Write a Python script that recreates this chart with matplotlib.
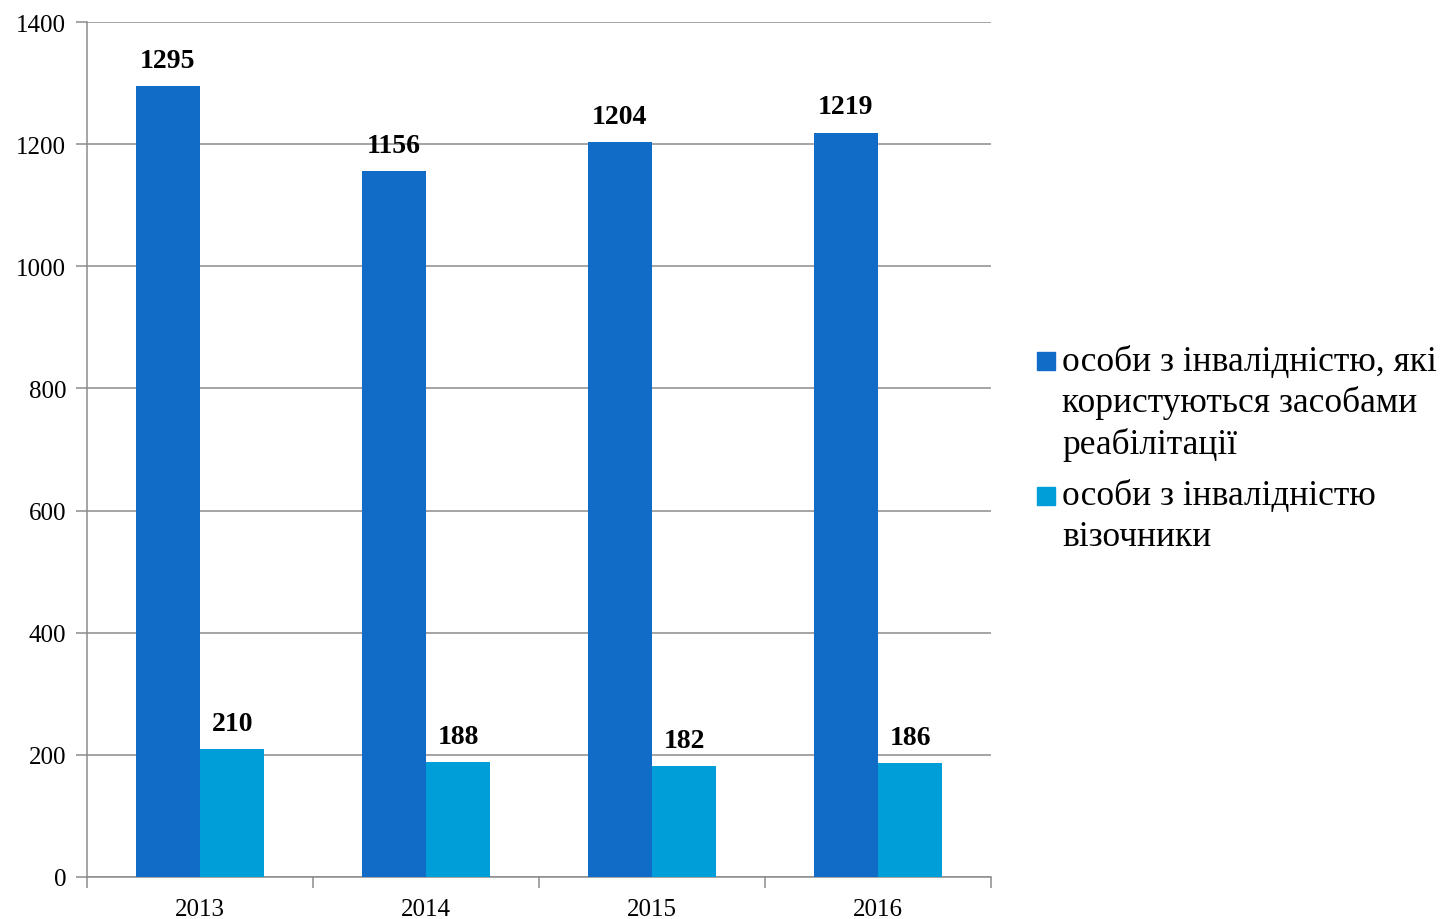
import numpy as np
import matplotlib
matplotlib.use('Agg')
import matplotlib.pyplot as plt
from matplotlib.patches import Rectangle

years = ['2013', '2014', '2015', '2016']
rehab_users = [1295, 1156, 1204, 1219]
wheelchair_users = [210, 188, 182, 186]
series_names = ['особи з інвалідністю, які\nкористуються засобами\nреабілітації',
                'особи з інвалідністю\nвізочники']
series_colors = ['#106cc6', '#009ed8']

plt.rcParams['font.family'] = ['Liberation Serif', 'DejaVu Serif']

fig = plt.figure(figsize=(14.51, 9.2), dpi=100)
ax = fig.add_axes([87/1451, 1 - 878/920, (991-87)/1451, (878-23)/920])

x = np.arange(len(years))
w = 0.285
b1 = ax.bar(x - w/2, rehab_users, w, color=series_colors[0], zorder=3)
b2 = ax.bar(x + w/2, wheelchair_users, w, color=series_colors[1], zorder=3)

for bars, vals in ((b1, rehab_users), (b2, wheelchair_users)):
	for bar, v in zip(bars, vals):
		ax.annotate(str(v), (bar.get_x() + bar.get_width()/2, v), xytext=(0, 18.5),
			textcoords='offset points', ha='center', va='center',
			fontsize=20, fontweight='bold')

ax.set_xlim(-0.5, len(years) - 0.5)
ax.set_ylim(0, 1400)
ax.set_yticks(range(0, 1401, 200))
ax.yaxis.grid(True, color='#8c8c8c', linewidth=1.1, zorder=0)
ax.set_xticks(x)
ax.set_xticklabels(years)
ax.set_xticks(np.arange(-0.5, len(years)), minor=True)
ax.tick_params(axis='x', which='major', length=0, labelsize=18, pad=15)
ax.tick_params(axis='x', which='minor', length=8, color='#8c8c8c', width=1.1)
ax.tick_params(axis='y', length=8, color='#8c8c8c', width=1.1, labelsize=18, pad=7)
for s in ('top', 'right'):
	ax.spines[s].set_visible(False)
for s in ('left', 'bottom'):
	ax.spines[s].set_color('#8c8c8c')
	ax.spines[s].set_linewidth(1.1)

# legend drawn by hand so the marker sits next to the first line
H = 920.0
W = 1451.0
y0 = 362
for name, col in zip(series_names, series_colors):
	fig.patches.append(Rectangle((1037/W, 1 - (y0 + 9)/H), 18/W, 18/H,
		transform=fig.transFigure, color=col))
	for line in name.split('\n'):
		fig.text(1062/W, 1 - y0/H, line, fontsize=25.5, va='center', ha='left')
		y0 += 41.5
	y0 += 10

fig.savefig('out.png', dpi=100)
